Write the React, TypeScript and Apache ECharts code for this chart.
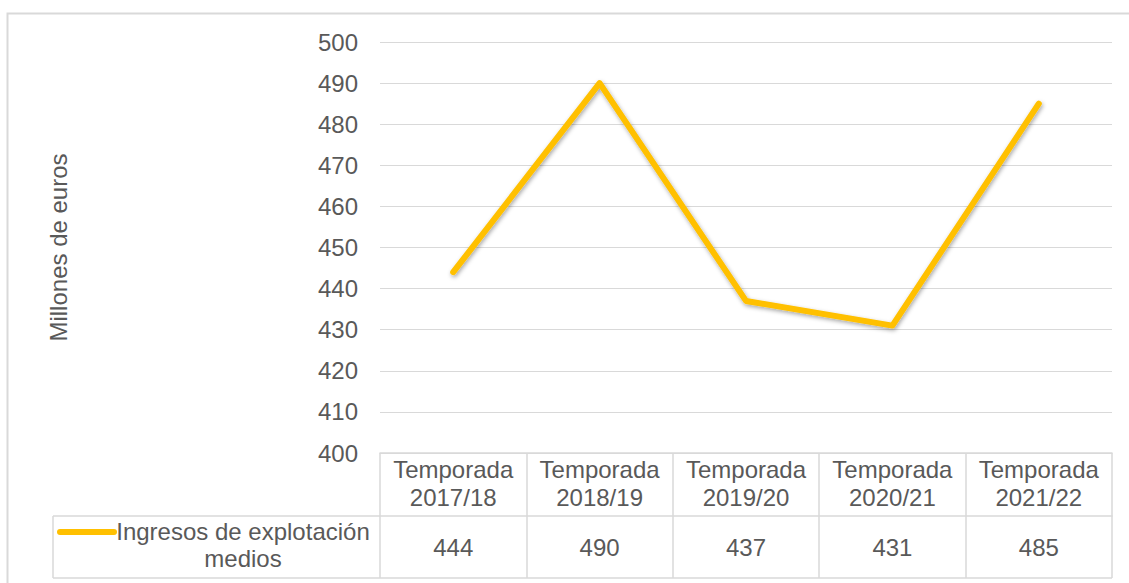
import React, { useEffect, useRef } from "react";
import * as echarts from "echarts";

const categories = [
  "Temporada\n2017/18",
  "Temporada\n2018/19",
  "Temporada\n2019/20",
  "Temporada\n2020/21",
  "Temporada\n2021/22",
];
const values = [444, 490, 437, 431, 485];
const seriesName = "Ingresos de explotación\nmedios";
const yAxisTitle = "Millones de euros";

const FONT = "'Liberation Sans', Arial, sans-serif";
const FS = 24;
const TXT = "#595959";
const LINE = "#d9d9d9";
const GOLD = "#FFC000";

export default function App() {
  const ref = useRef<HTMLDivElement>(null);
  useEffect(() => {
    if (!ref.current) return;
    const chart = echarts.init(ref.current, undefined, { renderer: "svg" });
    chart.setOption({
      animation: false,
      backgroundColor: "#ffffff",
      grid: { left: 380, right: 17, top: 42, bottom: 130 },
      xAxis: [
        {
          type: "category",
          data: categories,
          boundaryGap: true,
          position: "bottom",
          axisLine: { show: true, lineStyle: { color: LINE, width: 1.5 } },
          axisTick: { show: true, length: 125, lineStyle: { color: LINE, width: 1.5 } },
          axisLabel: {
            color: TXT,
            fontFamily: FONT,
            fontSize: FS,
            lineHeight: 28,
            margin: 2,
            interval: 0,
          },
        },
        {
          type: "category",
          data: values.map((v) => String(v)),
          boundaryGap: true,
          position: "bottom",
          offset: 63,
          axisLine: { show: true, lineStyle: { color: LINE, width: 1.5 } },
          axisTick: { show: false },
          axisLabel: {
            color: TXT,
            fontFamily: FONT,
            fontSize: FS,
            margin: 19,
            interval: 0,
          },
        },
      ],
      yAxis: {
        type: "value",
        min: 400,
        max: 500,
        interval: 10,
        name: yAxisTitle,
        nameLocation: "middle",
        nameGap: 310,
        nameTextStyle: { color: TXT, fontFamily: FONT, fontSize: FS },
        axisLine: { show: false },
        axisTick: { show: false },
        axisLabel: { color: TXT, fontFamily: FONT, fontSize: FS, margin: 22 },
        splitLine: { show: true, lineStyle: { color: LINE, width: 1 } },
      },
      series: [
        {
          type: "line",
          name: seriesName,
          data: values,
          xAxisIndex: 0,
          symbol: "none",
          lineStyle: {
            color: GOLD,
            width: 6,
            cap: "round",
            join: "round",
            shadowColor: "rgba(0,0,0,0.35)",
            shadowBlur: 4,
            shadowOffsetX: 1,
            shadowOffsetY: 2,
          },
        },
      ],
      graphic: [
        {
          type: "rect",
          shape: { x: 7.5, y: 13.5, width: 1140, height: 600 },
          style: { fill: "none", stroke: LINE, lineWidth: 2 },
          silent: true,
        },
        {
          type: "line",
          shape: { x1: 53, y1: 516, x2: 380, y2: 516 },
          style: { stroke: LINE, lineWidth: 1.5 },
        },
        {
          type: "line",
          shape: { x1: 53, y1: 578, x2: 1112, y2: 578 },
          style: { stroke: LINE, lineWidth: 1.5 },
        },
        {
          type: "line",
          shape: { x1: 53, y1: 516, x2: 53, y2: 578 },
          style: { stroke: LINE, lineWidth: 1.5 },
        },
        {
          type: "line",
          shape: { x1: 60, y1: 532, x2: 114, y2: 532 },
          style: { stroke: GOLD, lineWidth: 6, lineCap: "round" },
        },
        {
          type: "text",
          x: 243,
          y: 518,
          style: {
            text: seriesName,
            fill: TXT,
            font: `${FS}px ${FONT}`,
            lineHeight: 27,
            align: "center",
            textAlign: "center",
            verticalAlign: "top",
          },
        },
      ],
    });
    return () => chart.dispose();
  }, []);
  return (
    <div
      ref={ref}
      style={{ position: "absolute", left: 0, top: 0, width: 1129, height: 583 }}
    />
  );
}
